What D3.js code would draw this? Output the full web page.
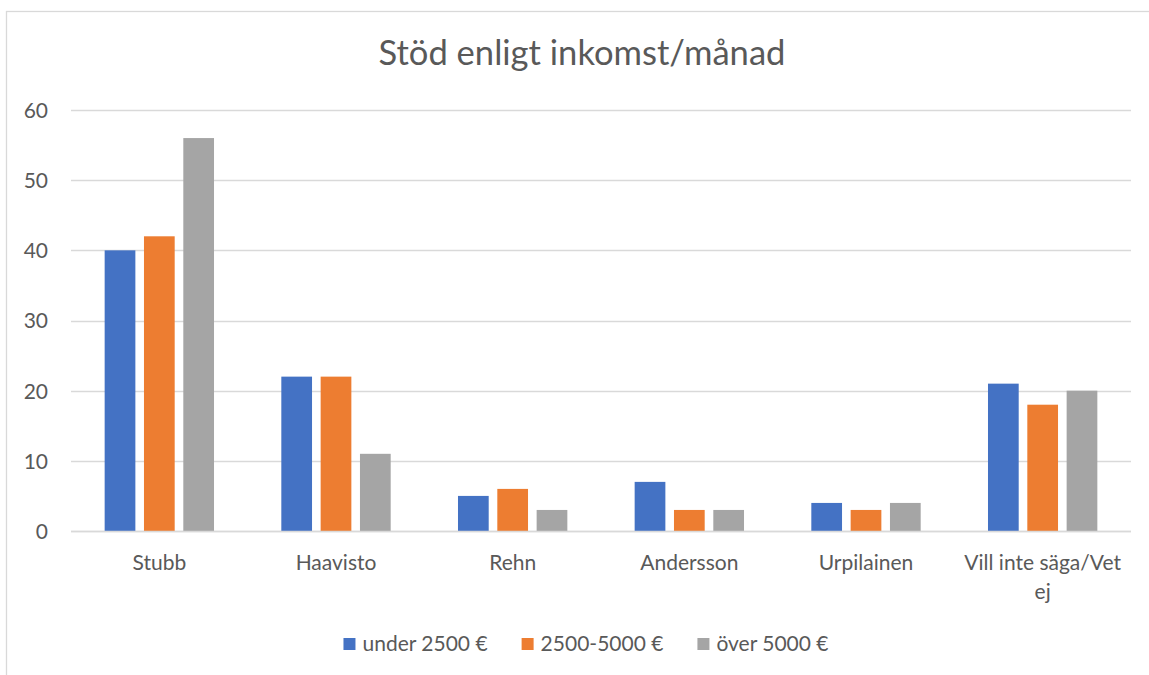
<!DOCTYPE html>
<html>
<head>
<meta charset="utf-8">
<script src="https://cdn.jsdelivr.net/npm/d3@7"></script>
<style>
  html, body { margin: 0; padding: 0; background: #fff; }
  svg { display: block; }
  text { font-family: Lato, "Open Sans", sans-serif; fill: #595959; }
</style>
</head>
<body>
<svg id="chart" width="1149" height="675"></svg>
<script>
const title = "Stöd enligt inkomst/månad";
const categories = ["Stubb", "Haavisto", "Rehn", "Andersson", "Urpilainen", "Vill inte säga/Vet ej"];
const seriesNames = ["under 2500 €", "2500-5000 €", "över 5000 €"];
const under2500 = [40, 22, 5, 7, 4, 21];
const mid2500to5000 = [42, 22, 6, 3, 3, 18];
const over5000 = [56, 11, 3, 3, 4, 20];
const yTicks = [0, 10, 20, 30, 40, 50, 60];
const colors = ["#4472C4", "#ED7D31", "#A5A5A5"];

const seriesValues = [under2500, mid2500to5000, over5000];
const rows = categories.map((c, i) => ({
  cat: c,
  vals: seriesNames.map((s, j) => ({ key: s, value: seriesValues[j][i], color: colors[j] }))
}));

const svg = d3.select("#chart");

// outer chart border
svg.append("rect")
  .attr("x", 6.5).attr("y", 11.5)
  .attr("width", 1200).attr("height", 700)
  .attr("fill", "#fff").attr("stroke", "#D9D9D9").attr("stroke-width", 1.3);

const plot = { left: 71, right: 1131, top: 110, bottom: 531 };

const y = d3.scaleLinear().domain([0, 60]).range([plot.bottom, plot.top]);
const p = 0.381;
const x0 = d3.scaleBand().domain(categories).range([plot.left, plot.right])
  .paddingInner(p).paddingOuter(p / 2);
const x1 = d3.scaleBand().domain(seriesNames).range([0, x0.bandwidth()]).paddingInner(0.219);

// gridlines
svg.append("g").selectAll("line").data(yTicks).join("line")
  .attr("x1", plot.left).attr("x2", plot.right)
  .attr("y1", d => Math.round(y(d)) + 0.5).attr("y2", d => Math.round(y(d)) + 0.5)
  .attr("stroke", "#D9D9D9").attr("stroke-width", 1.3);

// y axis labels
const yAxis = d3.axisLeft(y).tickValues(yTicks).tickSize(0).tickPadding(0);
const yg = svg.append("g").attr("transform", `translate(${48},0)`).call(yAxis);
yg.select(".domain").remove();
yg.selectAll("text").style("font-family", "Lato, sans-serif").style("font-size", "21px")
  .attr("fill", "#595959").attr("dy", "0.35em");

// bars
const groups = svg.append("g").selectAll("g").data(rows).join("g")
  .attr("transform", d => `translate(${x0(d.cat)},0)`);
groups.selectAll("rect").data(d => d.vals).join("rect")
  .attr("x", d => x1(d.key))
  .attr("width", x1.bandwidth())
  .attr("y", d => y(d.value))
  .attr("height", d => y(0) - y(d.value))
  .attr("fill", d => d.color);

// baseline
svg.append("line")
  .attr("x1", plot.left).attr("x2", plot.right)
  .attr("y1", Math.round(y(0)) + 0.5).attr("y2", Math.round(y(0)) + 0.5)
  .attr("stroke", "#D9D9D9").attr("stroke-width", 1.3);

// x axis labels with wrapping
const xAxis = d3.axisBottom(x0).tickSize(0).tickPadding(0);
const xg = svg.append("g").attr("transform", `translate(0,${plot.bottom})`).call(xAxis);
xg.select(".domain").remove();
xg.selectAll("text")
  .style("font-family", "Lato, sans-serif").style("font-size", "21px")
  .attr("fill", "#595959")
  .attr("y", 0).attr("dy", null)
  .each(function(d) {
    const t = d3.select(this);
    const words = d.split(" ");
    const maxW = x0.step() - 8;
    t.text(null);
    let lines = [];
    let line = [];
    let tspan = t.append("tspan");
    words.forEach(w => {
      line.push(w);
      tspan.text(line.join(" "));
      if (tspan.node().getComputedTextLength() > maxW && line.length > 1) {
        line.pop();
        lines.push(line.join(" "));
        line = [w];
        tspan.text(w);
      }
    });
    lines.push(line.join(" "));
    t.text(null);
    lines.forEach((l, i) => {
      t.append("tspan").attr("x", 0).attr("y", 39 + i * 29).text(l);
    });
  });

// title
const tt = svg.append("text")
  .attr("x", 582).attr("y", 65)
  .attr("text-anchor", "middle")
  .style("font-size", "30px")
  .text(title);
const tw = tt.node().getComputedTextLength();
tt.style("font-size", (30 * 407 / tw).toFixed(2) + "px");

// legend
const legend = svg.append("g");
const items = legend.selectAll("g").data(seriesNames).join("g");
items.append("rect").attr("width", 12).attr("height", 12).attr("y", -13)
  .attr("fill", (d, i) => colors[i]);
items.append("text").attr("x", 19).attr("y", 0)
  .style("font-size", "21px").text(d => d);
const gap = 34;
let xpos = 0;
items.each(function() {
  const g = d3.select(this);
  g.attr("transform", `translate(${xpos},0)`);
  xpos += 19 + g.select("text").node().getComputedTextLength() + gap;
});
const totalW = xpos - gap;
legend.attr("transform", `translate(${586 - totalW / 2},651)`);
</script>
</body>
</html>
